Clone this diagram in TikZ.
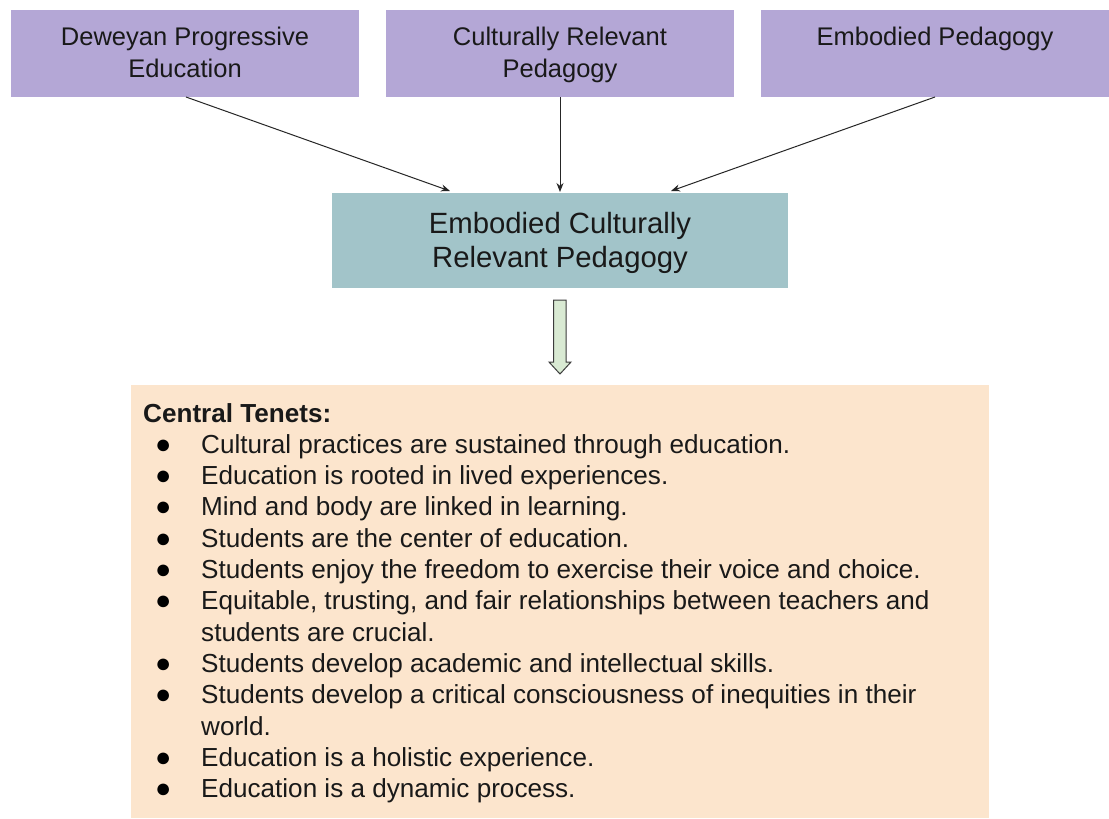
\documentclass[tikz,border=0pt]{standalone}
\usepackage{fontspec}
\setmainfont{Liberation Sans}
\usetikzlibrary{arrows.meta,calc}
\definecolor{lav}{HTML}{B4A7D6}
\definecolor{teal}{HTML}{A2C4C9}
\definecolor{peach}{HTML}{FCE5CD}
\definecolor{mint}{HTML}{D9EAD3}
\definecolor{edge}{HTML}{3C3C3C}
\tikzset{
  box/.style={inner sep=0pt, outer sep=0pt, draw=none},
  toptext/.style={inner sep=0pt, anchor=base, font=\fontsize{25.5}{30}\selectfont, text=black!90},
  midtext/.style={inner sep=0pt, anchor=base, font=\fontsize{29.3}{33}\selectfont, text=black!90},
  tline/.style={inner sep=0pt, anchor=base west, font=\fontsize{26.1}{30}\selectfont, text=black!90},
  bul/.style={inner sep=0pt, anchor=base, font=\fontsize{27}{30}\selectfont, text=black},
  conn/.style={draw=black!85, line width=1pt, -{Stealth[length=9pt,width=7pt]}},
}
\begin{document}
\begin{tikzpicture}[x=1pt,y=-1pt]
\useasboundingbox (0,0) rectangle (1109,819);
\fill[white] (0,0) rectangle (1109,819);
% top boxes
\node[box, fill=lav, minimum width=348pt, minimum height=87pt] (b1) at (185,53.5) {};
\node[box, fill=lav, minimum width=348pt, minimum height=87pt] (b2) at (560,53.5) {};
\node[box, fill=lav, minimum width=348pt, minimum height=87pt] (b3) at (935,53.5) {};
\node[toptext] (b1t1) at (185,45.7) {Deweyan Progressive};
\node[toptext] (b1t2) at (185,77.3) {Education};
\node[toptext] (b2t1) at (560,45.7) {Culturally Relevant};
\node[toptext] (b2t2) at (560,77.3) {Pedagogy};
\node[toptext] (b3t1) at (935,45.7) {Embodied Pedagogy};
% center box
\node[box, fill=teal, minimum width=456pt, minimum height=95pt] (c) at (560,240.5) {};
\node[midtext] (ct1) at (560,233.3) {Embodied Culturally};
\node[midtext] (ct2) at (560,267.3) {Relevant Pedagogy};
% connectors
\draw[conn] ($(b1.south)+(1,0)$) -- ($(c.north)+(-110,-2)$);
\draw[conn] (b2.south) -- ($(c.north)+(0,-1)$);
\draw[conn] (b3.south) -- ($(c.north)+(111,-2)$);
% block arrow
\draw[edge, line width=1pt, fill=mint, line join=miter]
  (553.5,300) -- (566,300) -- (566,362) -- (571,362) -- (560,374) -- (549,362) -- (553.5,362) -- cycle;
% tenets box
\node[box, fill=peach, minimum width=858pt, minimum height=433pt] (t) at (560,601.5) {};
\node[tline, font=\fontsize{26.1}{30}\selectfont\bfseries] (h) at (143,422) {Central Tenets:};
\foreach \i/\txt/\b in {
 1/{Cultural practices are sustained through education.}/1,
 2/{Education is rooted in lived experiences.}/1,
 3/{Mind and body are linked in learning.}/1,
 4/{Students are the center of education.}/1,
 5/{Students enjoy the freedom to exercise their voice and choice.}/1,
 6/{Equitable, trusting, and fair relationships between teachers and}/1,
 7/{students are crucial.}/0,
 8/{Students develop academic and intellectual skills.}/1,
 9/{Students develop a critical consciousness of inequities in their}/1,
 10/{world.}/0,
 11/{Education is a holistic experience.}/1,
 12/{Education is a dynamic process.}/1}{
  \node[tline] (l\i) at (201,422+31.3*\i) {\txt};
  \ifnum\b=1
    \node[bul] (p\i) at (163.3,422+31.3*\i) {●};
  \fi
}
\end{tikzpicture}
\end{document}
